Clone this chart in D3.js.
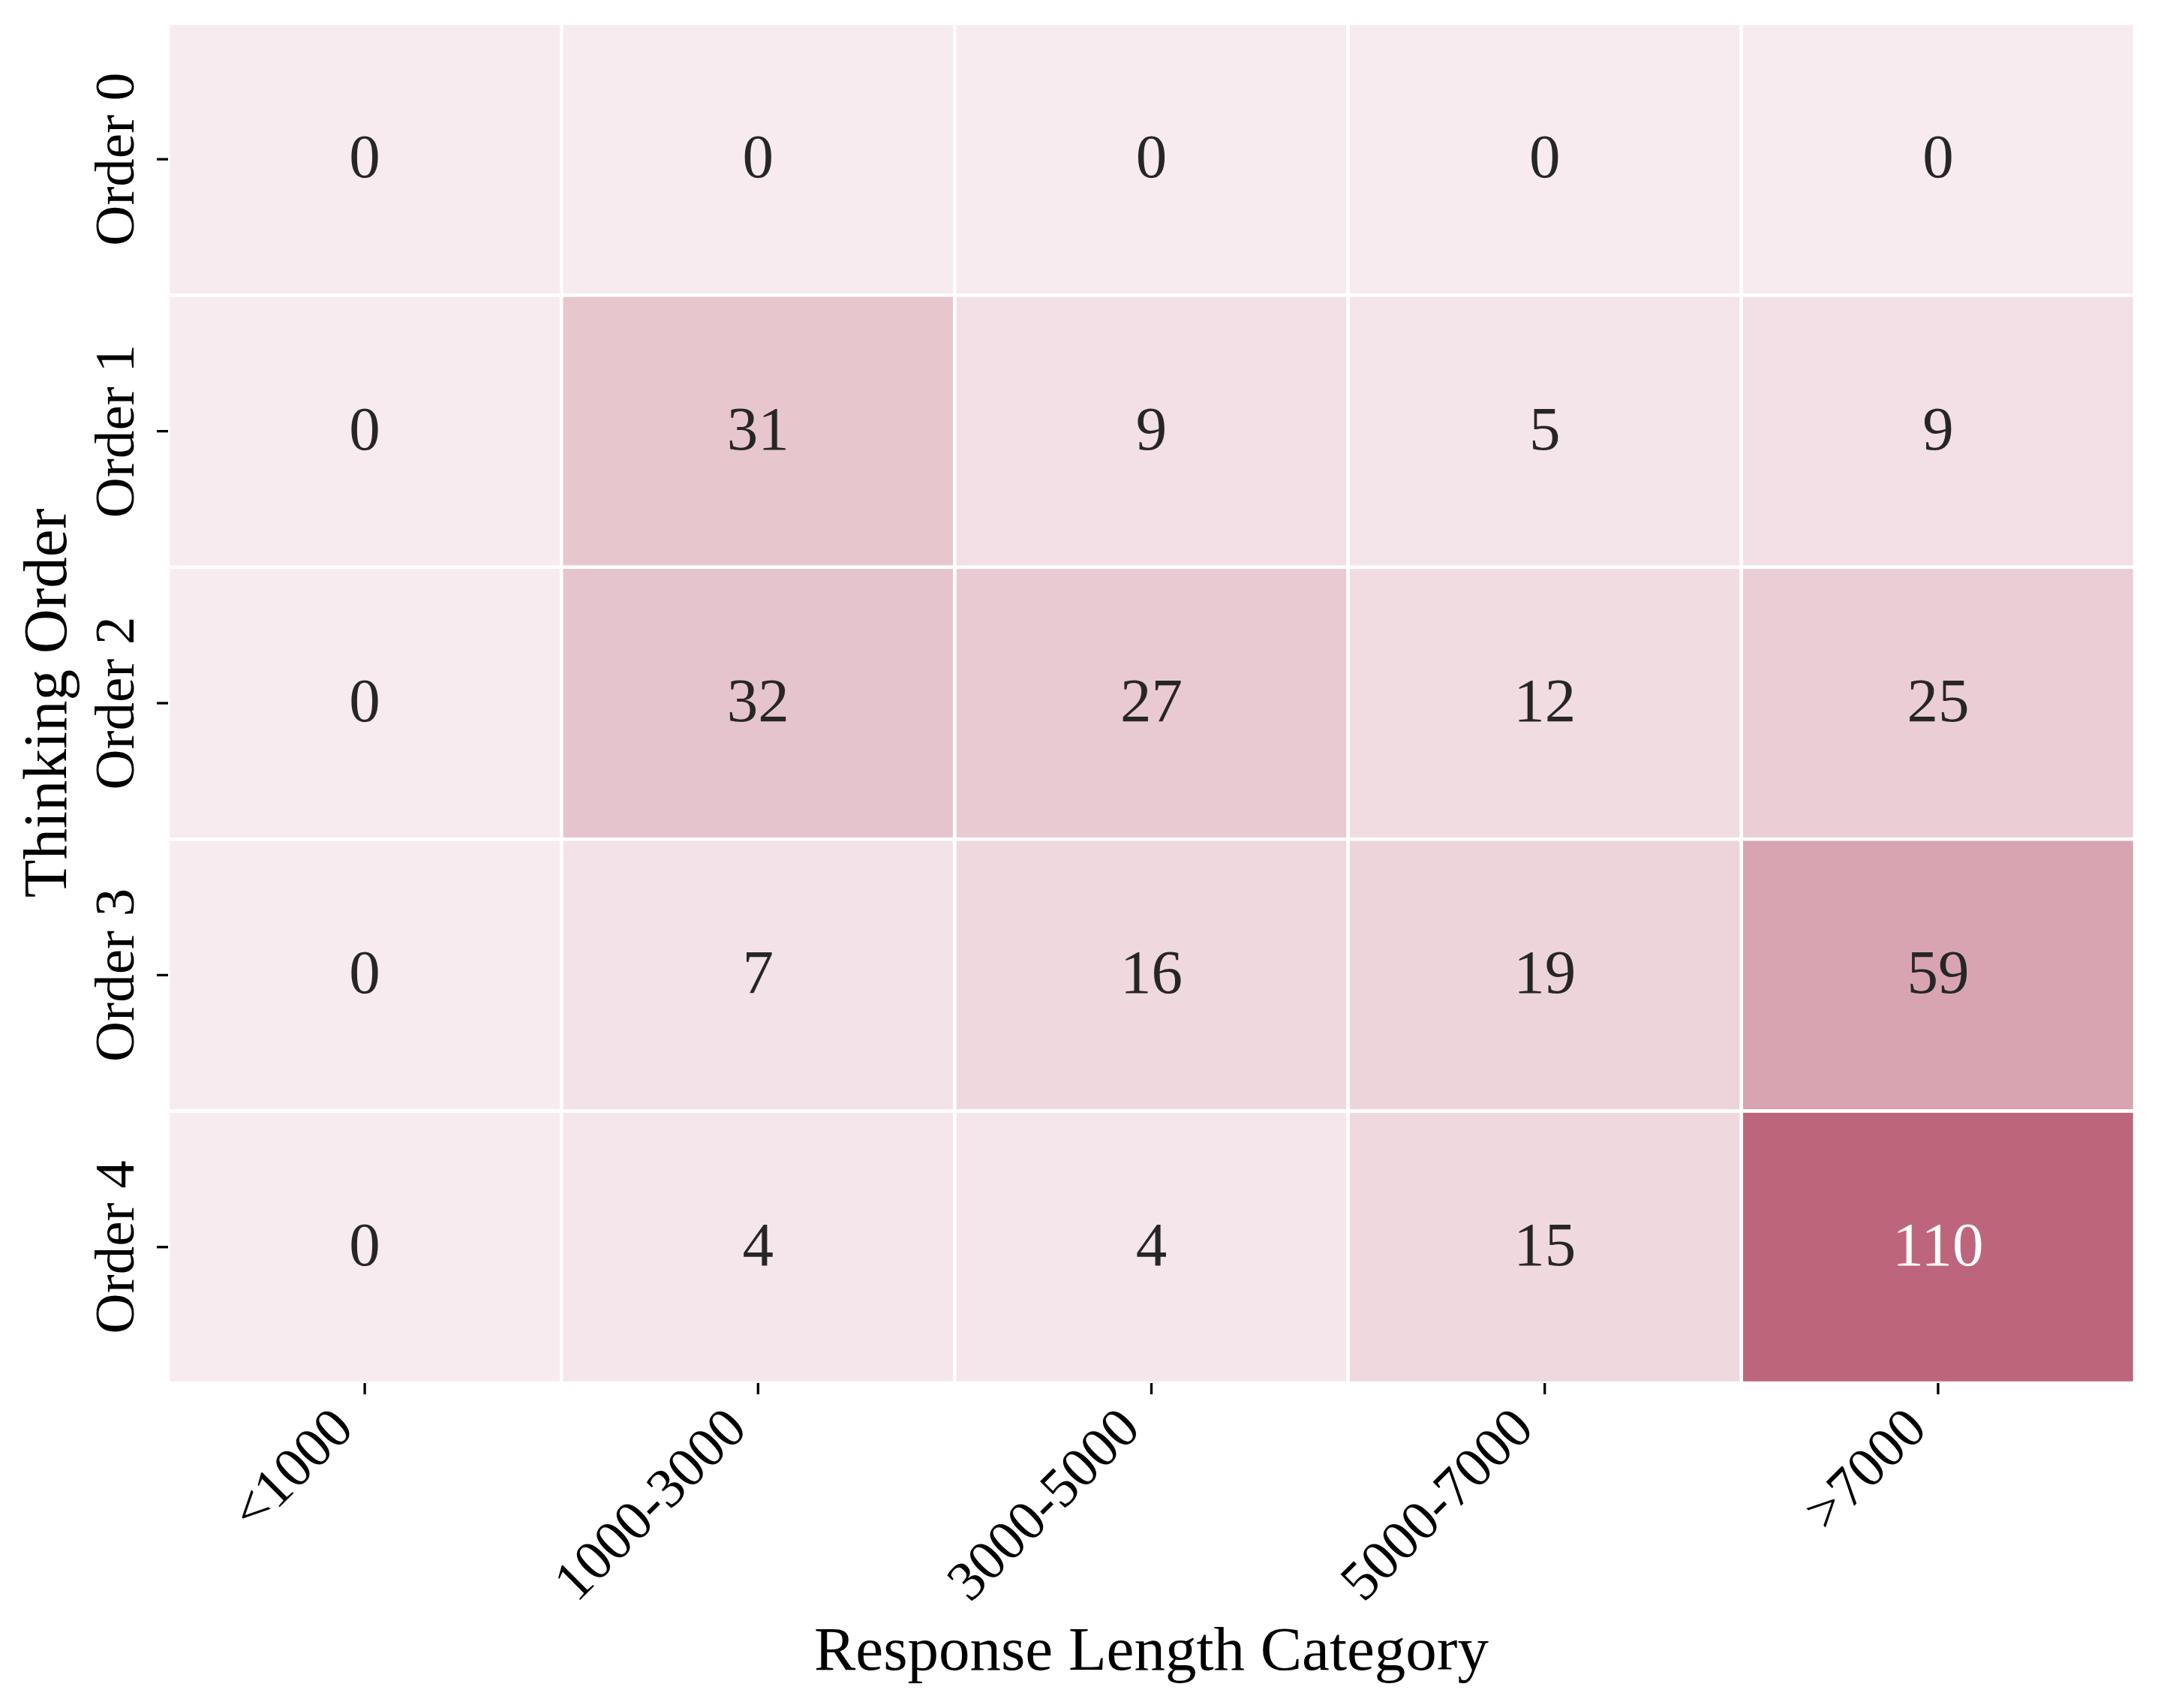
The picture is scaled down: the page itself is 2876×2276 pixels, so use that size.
<!DOCTYPE html>
<html>
<head>
<meta charset="utf-8">
<script src="https://cdn.jsdelivr.net/npm/d3@7"></script>
<style>
  html, body { margin: 0; padding: 0; background: #ffffff; }
  svg { display: block; }
  text { font-family: "Liberation Serif", "Times New Roman", serif; }
</style>
</head>
<body>
<svg id="chart" width="2876" height="2276"></svg>
<script>
// ---- data ----
const rowLabels = ["Order 0", "Order 1", "Order 2", "Order 3", "Order 4"];
const colLabels = ["<1000", "1000-3000", "3000-5000", "5000-7000", ">7000"];
const order0 = [0, 0, 0, 0, 0];
const order1 = [0, 31, 9, 5, 9];
const order2 = [0, 32, 27, 12, 25];
const order3 = [0, 7, 16, 19, 59];
const order4 = [0, 4, 4, 15, 110];
const xTitle = "Response Length Category";
const yTitle = "Thinking Order";

const matrix = [order0, order1, order2, order3, order4];
const cells = [];
matrix.forEach((row, i) => row.forEach((v, j) => cells.push({ r: rowLabels[i], c: colLabels[j], v })));

// ---- layout ----
const svg = d3.select("#chart");
const plotL = 224, plotR = 2845, plotT = 31, plotB = 1843;

const x = d3.scaleBand().domain(colLabels).range([plotL, plotR]).padding(0);
const y = d3.scaleBand().domain(rowLabels).range([plotT, plotB]).padding(0);
const vmax = d3.max(cells, d => d.v);
const color = d3.scaleLinear().domain([0, vmax]).range(["#F7EBEF", "#BD667B"]).interpolate(d3.interpolateRgb);

svg.append("rect").attr("width", 2876).attr("height", 2276).attr("fill", "#ffffff");

// cells
svg.append("g").selectAll("rect").data(cells).join("rect")
  .attr("x", d => x(d.c))
  .attr("y", d => y(d.r))
  .attr("width", x.bandwidth())
  .attr("height", y.bandwidth())
  .attr("fill", d => color(d.v))
  .attr("stroke", "#ffffff")
  .attr("stroke-width", 4.5);

// annotations
svg.append("g").selectAll("text").data(cells).join("text")
  .attr("x", d => x(d.c) + x.bandwidth() / 2)
  .attr("y", d => y(d.r) + y.bandwidth() / 2 - 4)
  .attr("text-anchor", "middle")
  .attr("dominant-baseline", "central")
  .attr("font-size", 83)
  .attr("fill", d => (d.v / vmax > 0.6 ? "#ffffff" : "#262626"))
  .text(d => d.v);

// x axis
const xAxis = d3.axisBottom(x).tickSize(15).tickPadding(15);
const gx = svg.append("g").attr("transform", `translate(0,${plotB})`).call(xAxis);
gx.select(".domain").remove();
gx.selectAll(".tick line").attr("stroke", "#000").attr("stroke-width", 3.3);
gx.selectAll(".tick text")
  .attr("font-size", 75)
  .attr("fill", "#000")
  .attr("text-anchor", "end")
  .attr("dy", null)
  .attr("y", null)
  .attr("transform", "translate(-12,64) rotate(-45)");

// y axis
const yAxis = d3.axisLeft(y).tickSize(15).tickPadding(15);
const gy = svg.append("g").attr("transform", `translate(${plotL},0)`).call(yAxis);
gy.select(".domain").remove();
gy.selectAll(".tick line").attr("stroke", "#000").attr("stroke-width", 3.3);
gy.selectAll(".tick text")
  .attr("font-size", 75)
  .attr("fill", "#000")
  .attr("text-anchor", "middle")
  .attr("dy", null)
  .attr("x", null)
  .attr("transform", "translate(-46,0) rotate(-90)");

// axis titles
svg.append("text")
  .attr("x", (plotL + plotR) / 2)
  .attr("y", 2225)
  .attr("text-anchor", "middle")
  .attr("font-size", 83)
  .attr("fill", "#000")
  .text(xTitle);

svg.append("text")
  .attr("transform", `translate(88,${(plotT + plotB) / 2}) rotate(-90)`)
  .attr("text-anchor", "middle")
  .attr("font-size", 83)
  .attr("fill", "#000")
  .text(yTitle);
</script>
</body>
</html>
